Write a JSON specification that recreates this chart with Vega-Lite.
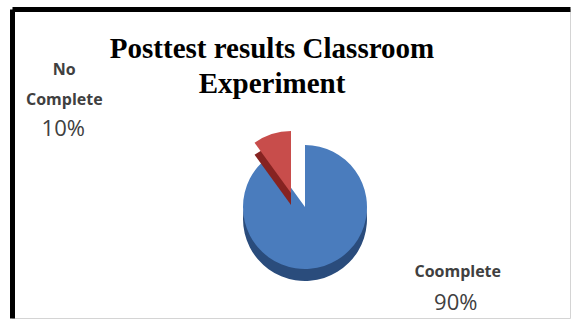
{
  "$schema": "https://vega.github.io/schema/vega-lite/v6.json",
  "width": 558,
  "height": 309,
  "autosize": {"type": "none"},
  "padding": {"left": 12, "top": 9, "right": 5, "bottom": 7},
  "background": "white",
  "config": {"view": {"stroke": "#d4d4d4", "strokeWidth": 1}},
  "title": {
    "text": ["Posttest results Classroom", "Experiment"],
    "font": "Liberation Serif",
    "fontSize": 29,
    "fontWeight": "bold",
    "color": "#000000",
    "lineHeight": 35,
    "anchor": "middle",
    "baseline": "top",
    "offset": -93,
    "dx": -19
  },
  "data": {
    "values": [
      {"category": "Coomplete", "share": 0.9},
      {"category": "No Complete", "share": 0.1}
    ]
  },
  "layer": [
    {
      "mark": {"type": "point", "opacity": 0},
      "encoding": {
        "x": {"field": "share", "type": "quantitative", "axis": {"orient": "top", "domain": true, "domainColor": "#000000", "domainWidth": 5, "ticks": false, "labels": false, "title": null, "grid": false}},
        "y": {"field": "share", "type": "quantitative", "axis": {"orient": "left", "domain": true, "domainColor": "#000000", "domainWidth": 5, "ticks": false, "labels": false, "title": null, "grid": false}}
      }
    },
    {
      "mark": {"type": "arc", "outerRadius": 62, "xOffset": 14, "yOffset": 55.5},
      "encoding": {
        "theta": {"field": "share", "type": "quantitative", "stack": true},
        "order": {"field": "category", "type": "nominal", "sort": "ascending"},
        "color": {"condition": {"test": "datum.category === 'Coomplete'", "value": "#2a4c7c"}, "value": "transparent"}
      }
    },
    {
      "mark": {"type": "arc", "outerRadius": 62, "xOffset": 14, "yOffset": 43.5},
      "encoding": {
        "theta": {"field": "share", "type": "quantitative", "stack": true},
        "order": {"field": "category", "type": "nominal", "sort": "ascending"},
        "color": {"condition": {"test": "datum.category === 'Coomplete'", "value": "#4a7cbd"}, "value": "transparent"}
      }
    },
    {
      "mark": {"type": "arc", "outerRadius": 62, "xOffset": 0, "yOffset": 41.5},
      "encoding": {
        "theta": {"field": "share", "type": "quantitative", "stack": true},
        "order": {"field": "category", "type": "nominal", "sort": "ascending"},
        "color": {"condition": {"test": "datum.category === 'No Complete'", "value": "#862321"}, "value": "transparent"}
      }
    },
    {
      "mark": {"type": "arc", "outerRadius": 62, "xOffset": 0, "yOffset": 29.5},
      "encoding": {
        "theta": {"field": "share", "type": "quantitative", "stack": true},
        "order": {"field": "category", "type": "nominal", "sort": "ascending"},
        "color": {"condition": {"test": "datum.category === 'No Complete'", "value": "#c84d4b"}, "value": "transparent"}
      }
    },
    {
      "mark": {"type": "text", "radius": 80, "xOffset": 14, "yOffset": 44.5, "dx": -216, "dy": -62, "font": "Open Sans", "fontSize": 16, "fontWeight": "bold", "color": "#404040", "lineBreak": " ", "lineHeight": 30, "baseline": "middle", "align": "center"},
      "encoding": {
        "theta": {"field": "share", "type": "quantitative", "stack": true},
        "order": {"field": "category", "type": "nominal", "sort": "ascending"},
        "text": {"field": "category"},
        "opacity": {"condition": {"test": "datum.category === 'No Complete'", "value": 1}, "value": 0}
      }
    },
    {
      "mark": {"type": "text", "radius": 80, "xOffset": 14, "yOffset": 44.5, "dx": -217, "dy": -3, "font": "Open Sans", "fontSize": 22, "color": "#404040", "baseline": "middle", "align": "center"},
      "encoding": {
        "theta": {"field": "share", "type": "quantitative", "stack": true},
        "order": {"field": "category", "type": "nominal", "sort": "ascending"},
        "text": {"field": "share", "format": ".0%"},
        "opacity": {"condition": {"test": "datum.category === 'No Complete'", "value": 1}, "value": 0}
      }
    },
    {
      "mark": {"type": "text", "radius": 80, "xOffset": 14, "yOffset": 44.5, "dx": 128, "dy": -12, "font": "Open Sans", "fontSize": 16, "fontWeight": "bold", "color": "#404040", "baseline": "middle", "align": "center"},
      "encoding": {
        "theta": {"field": "share", "type": "quantitative", "stack": true},
        "order": {"field": "category", "type": "nominal", "sort": "ascending"},
        "text": {"field": "category"},
        "opacity": {"condition": {"test": "datum.category === 'Coomplete'", "value": 1}, "value": 0}
      }
    },
    {
      "mark": {"type": "text", "radius": 80, "xOffset": 14, "yOffset": 44.5, "dx": 126, "dy": 19, "font": "Open Sans", "fontSize": 22, "color": "#404040", "baseline": "middle", "align": "center"},
      "encoding": {
        "theta": {"field": "share", "type": "quantitative", "stack": true},
        "order": {"field": "category", "type": "nominal", "sort": "ascending"},
        "text": {"field": "share", "format": ".0%"},
        "opacity": {"condition": {"test": "datum.category === 'Coomplete'", "value": 1}, "value": 0}
      }
    }
  ]
}
